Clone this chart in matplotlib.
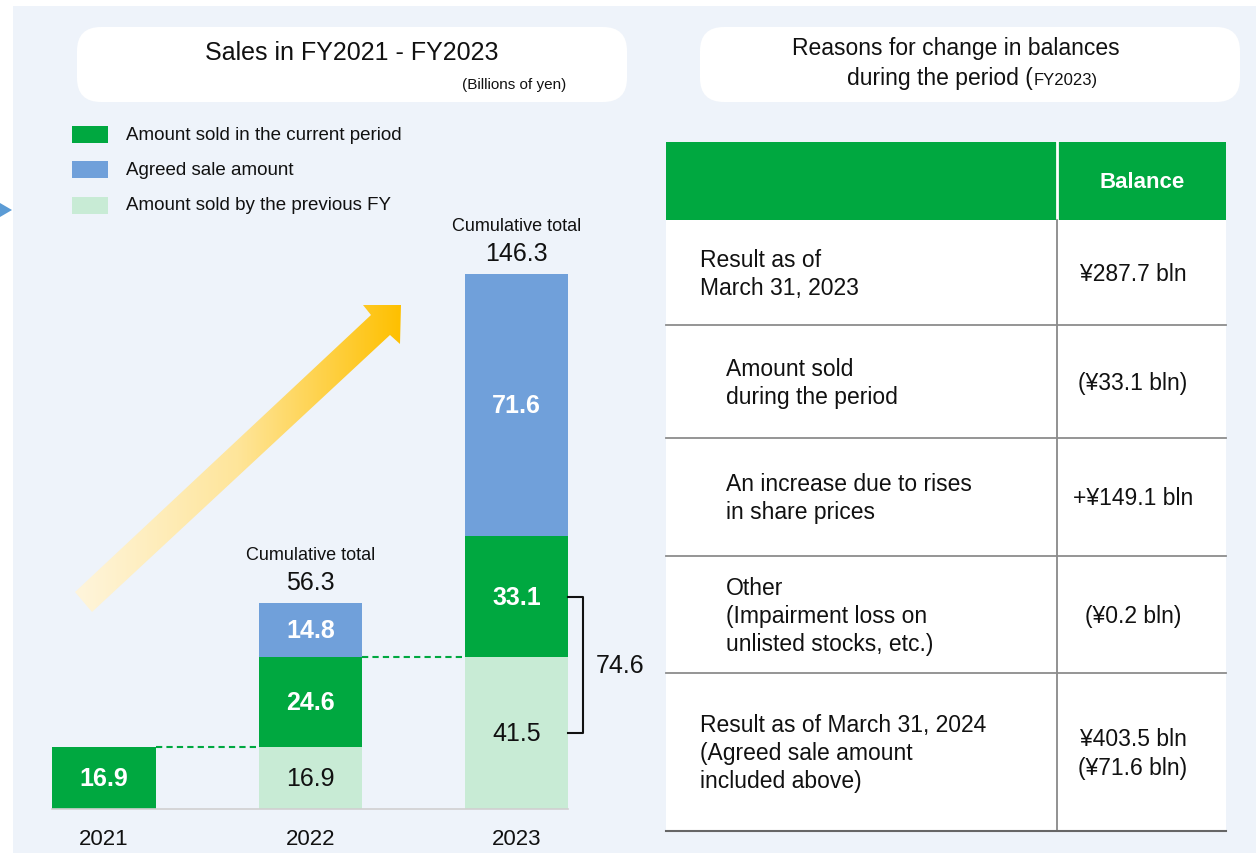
from matplotlib import pyplot as plt
from matplotlib.patches import Rectangle, FancyBboxPatch, Polygon
from matplotlib.colors import LinearSegmentedColormap
import numpy as np

plt.rcParams['font.family'] = ['Liberation Sans', 'DejaVu Sans']

# ---- data ----
years = ['2021', '2022', '2023']
sold_prev = [0.0, 16.9, 41.5]       # amount sold by the previous FY
sold_current = [16.9, 24.6, 33.1]   # amount sold in the current period
agreed_sale = [0.0, 14.8, 71.6]     # agreed sale amount
cumulative_total = [None, 56.3, 146.3]  # as printed (rounded figures)

legend_labels = ['Amount sold in the current period',
                 'Agreed sale amount',
                 'Amount sold by the previous FY']

table_header = 'Balance'
row_labels = ['Result as of\nMarch 31, 2023',
              'Amount sold\nduring the period',
              'An increase due to rises\nin share prices',
              'Other\n(Impairment loss on\nunlisted stocks, etc.)',
              'Result as of March 31, 2024\n(Agreed sale amount\nincluded above)']
row_values = ['¥287.7 bln', '(¥33.1 bln)', '+¥149.1 bln', '(¥0.2 bln)',
              '¥403.5 bln\n(¥71.6 bln)']
row_indent = [False, True, True, True, False]

# ---- styles ----
GREEN = '#00a840'
BLUE = '#70a0da'
LIGHT = '#c8ebd5'
BG = '#eef3fa'
TXT = '#111111'
W, H = 1256, 854

fig = plt.figure(figsize=(W / 100, H / 100), dpi=100)
fig.patch.set_facecolor('white')

# background layer in pixel coordinates
bg = fig.add_axes([0, 0, 1, 1])
bg.axis('off')

bg.add_patch(Rectangle((13, 7), W, H, facecolor=BG, edgecolor='none'))
bg.add_patch(Polygon([(0, 204), (12, 211), (0, 218)], closed=True,
                     facecolor='#5b9bd5', edgecolor='none'))

# title boxes
for x0, x1 in [(77, 627), (700, 1240)]:
    bg.add_patch(FancyBboxPatch((x0, 28), x1 - x0, 75,
                                boxstyle='round,pad=0,rounding_size=24',
                                facecolor='white', edgecolor='none'))
bg.text(352, 53, 'Sales in FY2021 - FY2023', fontsize=18, ha='center', va='center', color=TXT)
bg.text(566, 85, '(Billions of yen)', fontsize=11, ha='right', va='center', color=TXT)
bg.text(956, 48, 'Reasons for change in balances', fontsize=16.5, ha='center', va='center', color=TXT)
bg.text(1033, 85, 'during the period (', fontsize=16.5, ha='right', va='baseline', color=TXT)
bg.text(1034, 85, 'FY2023)', fontsize=12, ha='left', va='baseline', color=TXT)

# legend
for k, (lab, col) in enumerate(zip(legend_labels, [GREEN, BLUE, LIGHT])):
    yc = 135 + k * 35.5
    bg.add_patch(Rectangle((72, yc - 8.5), 36, 17, facecolor=col, edgecolor='none'))
    bg.text(126, yc, lab, fontsize=13.5, ha='left', va='center', color=TXT)

# gradient arrow
arrow_pts = [(75, 593), (371, 316), (363, 306), (401, 306),
             (400, 345), (390, 336), (92, 613)]
arrow = Polygon(arrow_pts, closed=True, transform=bg.transData,
                facecolor='none', edgecolor='none')
cmap = LinearSegmentedColormap.from_list('gold', ['#fff5dc', '#fee59a', '#ffc000'])
grad = np.linspace(0, 1, 256).reshape(1, -1)
im = bg.imshow(grad, cmap=cmap, extent=(75, 401, 613, 306), aspect='auto', zorder=2)
im.set_clip_path(arrow)

# table
tx0, tx1, tdiv = 666, 1226, 1057
row_edges = [221, 326, 439, 557, 674, 832]
bg.add_patch(Rectangle((tx0, 143), tx1 - tx0, 78, facecolor=GREEN, edgecolor='none'))
bg.add_patch(Rectangle((tx0, 221), tx1 - tx0, 611, facecolor='white', edgecolor='none'))
bg.plot([tdiv, tdiv], [143, 221], color='white', lw=2)
bg.text(1142, 183, table_header, fontsize=16, fontweight='bold', color='white',
        ha='center', va='center')
bg.plot([tdiv, tdiv], [221, 832], color='#7f7f7f', lw=1.2)
for ye in row_edges[1:-1]:
    bg.plot([tx0, tx1], [ye, ye], color='#8c8c8c', lw=1.3)
bg.plot([tx0, tx1], [832, 832], color='#666666', lw=1.5)

for r, (lab, val, ind) in enumerate(zip(row_labels, row_values, row_indent)):
    yc = (row_edges[r] + row_edges[r + 1]) / 2 + 1
    lines = lab.split('\n')
    for k, line in enumerate(lines):
        bg.text(726 if ind else 700, yc + (k - (len(lines) - 1) / 2) * 28, line,
                fontsize=16.5, ha='left', va='center', color=TXT)
    vlines = val.split('\n')
    for k, line in enumerate(vlines):
        bg.text(1133, yc + (k - (len(vlines) - 1) / 2) * 29, line,
                fontsize=16.5, ha='center', va='center', color=TXT)

bg.set_xlim(0, W)
bg.set_ylim(H, 0)

# ---- bar chart ----
px_per_unit = 3.66
base_px = 810
xl_px, xr_px = 52.4, 568.2
ymax = 158
ax = fig.add_axes([xl_px / W, (H - base_px) / H, (xr_px - xl_px) / W,
                   ymax * px_per_unit / H])
ax.patch.set_alpha(0)

x = np.arange(len(years))
prev = np.array(sold_prev)
cur = np.array(sold_current)
agr = np.array(agreed_sale)
bw = 0.5
ax.bar(x, prev, width=bw, color=LIGHT)
ax.bar(x, cur, width=bw, bottom=prev, color=GREEN)
ax.bar(x, agr, width=bw, bottom=prev + cur, color=BLUE)

for i in x:
    segs = [(prev[i], 0, TXT, 'normal'),
            (cur[i], prev[i], 'white', 'bold'),
            (agr[i], prev[i] + cur[i], 'white', 'bold')]
    for v, b, c, fw in segs:
        if v > 0:
            ax.text(i, b + v / 2, f'{v:.1f}', ha='center', va='center',
                    fontsize=18, color=c, fontweight=fw)
    if cumulative_total[i] is not None:
        top = prev[i] + cur[i] + agr[i]
        ax.annotate(f'{cumulative_total[i]:.1f}', (i, top), xytext=(0, 21),
                    textcoords='offset pixels', ha='center', va='center',
                    fontsize=18, color=TXT)
        ax.annotate('Cumulative total', (i, top), xytext=(0, 48),
                    textcoords='offset pixels', ha='center', va='center',
                    fontsize=13, color=TXT)

# dashed connectors between bars
for i in range(len(years) - 1):
    lvl = prev[i] + cur[i]
    ax.plot([i + bw / 2, i + 1 - bw / 2], [lvl, lvl], color=GREEN, lw=1.5,
            ls=(0, (3, 2)))

# bracket on the last bar
j = len(years) - 1
y_lo = prev[j] / 2
y_hi = prev[j] + cur[j] / 2
bx = j + bw / 2 + 0.07
ax.plot([j + bw / 2, bx, bx, j + bw / 2], [y_hi, y_hi, y_lo, y_lo],
        color=TXT, lw=1.5, clip_on=False)
ax.text(j + 0.5, (y_lo + y_hi) / 2, f'{prev[j] + cur[j]:.1f}', ha='center',
        va='center', fontsize=18, color=TXT)

ax.set_xlim(-0.25, 2.25)
ax.set_ylim(0, ymax)
ax.set_xticks(x, years, fontsize=16, color=TXT)
ax.tick_params(axis='x', length=0, pad=14)
ax.set_yticks([])
for s in ['top', 'left', 'right']:
    ax.spines[s].set_visible(False)
ax.spines['bottom'].set_color('#d0d0d0')
ax.spines['bottom'].set_linewidth(1.2)

fig.savefig('out.png', dpi=100, facecolor=fig.get_facecolor())
